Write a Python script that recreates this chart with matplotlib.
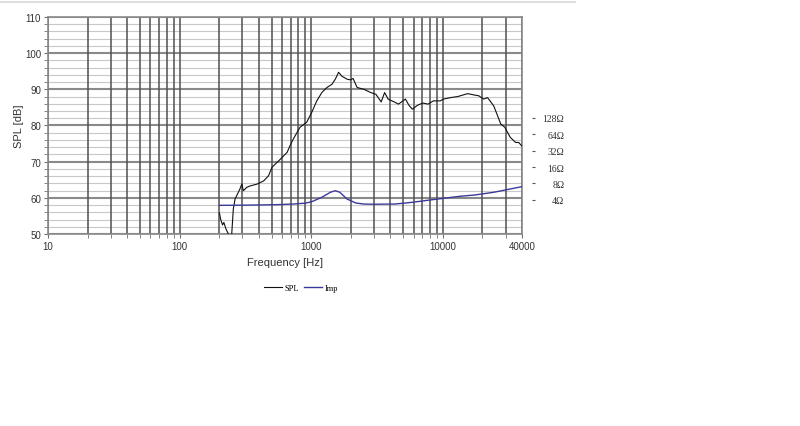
import matplotlib
matplotlib.use('Agg')
import matplotlib.pyplot as plt
from matplotlib.lines import Line2D
from matplotlib.ticker import FixedLocator, NullFormatter, NullLocator

# SPL curve (Hz, dB)
spl_freq = [201, 205, 212, 217, 225, 235, 245, 249, 256, 264, 275, 287, 297, 305, 314, 324,
            344, 388, 436, 474, 503, 550, 584, 657, 690, 730, 822, 925, 1009, 1103, 1205,
            1317, 1440, 1525, 1615, 1713, 1873, 1985, 2080, 2234, 2516, 2837, 3107, 3404,
            3615, 3842, 4337, 4610, 5200, 5530, 5870, 6430, 7050, 7730, 8480, 9570, 10140,
            11470, 13000, 15460, 17480, 18800, 20400, 21900, 24400, 27600, 29600, 32600,
            35800, 37800, 39700]
spl_db = [55.8, 54.1, 52.5, 53.2, 51.4, 50.0, 47.0, 50.0, 56.9, 59.7, 61.0, 62.4, 63.8, 62.0,
          62.4, 62.9, 63.3, 63.8, 64.7, 66.1, 68.4, 69.8, 70.7, 72.6, 74.4, 76.2, 79.5, 80.9,
          83.6, 86.8, 89.1, 90.5, 91.4, 92.8, 94.7, 93.6, 92.8, 92.6, 93.0, 90.5, 90.0, 89.1,
          88.6, 86.5, 89.1, 87.3, 86.4, 85.9, 87.3, 85.6, 84.5, 85.6, 86.2, 85.9, 86.8, 86.8,
          87.3, 87.7, 88.0, 88.8, 88.4, 88.2, 87.3, 87.7, 85.4, 80.4, 79.5, 76.7, 75.3, 75.3,
          74.4]

# impedance curve (Hz, ohm)
imp_freq = [201, 300, 409, 550, 730, 900, 1009, 1205, 1400, 1525, 1650, 1873, 2180, 2500,
            3000, 4337, 5870, 8000, 10140, 13500, 17480, 24400, 32600, 39700]
imp_ohm = [3.15, 3.17, 3.20, 3.24, 3.33, 3.45, 3.67, 4.43, 5.48, 5.86, 5.48, 4.12, 3.48,
           3.33, 3.30, 3.33, 3.58, 3.95, 4.24, 4.62, 4.88, 5.48, 6.30, 6.94]

x_ticks = [10, 100, 1000, 10000, 40000]
x_minor = [m * d for d in [10, 100, 1000] for m in range(2, 10)] + [20000, 30000]
ohm_ticks = [4, 8, 16, 32, 64, 128]

fig = plt.figure(figsize=(8, 4.27), dpi=100)
ax = fig.add_axes([0.06, 0.4496, 0.5925, 0.5084])

# faint line at the very top of the picture
fig.add_artist(Line2D([0, 575 / 800], [1 - 2.5 / 427] * 2, color='#d8d8d8', linewidth=1.2))

ax.set_xscale('log')
ax.set_xlim(10, 40000)
ax.set_ylim(50, 110)

ax.xaxis.set_major_locator(FixedLocator(x_ticks))
ax.set_xticklabels([str(t) for t in x_ticks])
ax.xaxis.set_minor_locator(FixedLocator(x_minor))
ax.xaxis.set_minor_formatter(NullFormatter())
ax.yaxis.set_major_locator(FixedLocator(range(50, 111, 10)))
ax.yaxis.set_minor_locator(FixedLocator(range(50, 111, 2)))

# horizontal grid under, vertical grid lines on top of it
ax.grid(True, axis='y', which='minor', color='#c8c8c8', linewidth=0.8)
ax.grid(True, axis='y', which='major', color='#8a8a8a', linewidth=1.5)
ax.set_axisbelow(True)
ax.vlines(x_ticks + x_minor, 0, 1, transform=ax.get_xaxis_transform(),
          colors='#505050', linewidth=1.1, zorder=1)

for s in ax.spines.values():
    s.set_color('#8a8a8a')
    s.set_linewidth(1.2)

ax.tick_params(axis='both', which='both', direction='out', length=3, color='#707070',
               labelsize=7, labelcolor='#333333', pad=2)
for lbl in ax.get_xticklabels() + ax.get_yticklabels():
    lbl.set_family('Liberation Sans')

ax.set_xlabel('Frequency [Hz]', fontsize=8, family='Liberation Sans', color='#333333', labelpad=4)
ax.set_ylabel('SPL [dB]', fontsize=8, family='Liberation Sans', color='#333333', labelpad=1)

l1, = ax.plot(spl_freq, spl_db, color='#111111', linewidth=0.8, label='SPL', zorder=3)

ax2 = ax.twinx()
ax2.set_yscale('log')
ax2.set_ylim(0.933, 9290)
l2, = ax2.plot(imp_freq, imp_ohm, color='#3a3a9a', linewidth=1.0, label='Imp')
ax2.yaxis.set_major_locator(FixedLocator(ohm_ticks))
ax2.yaxis.set_minor_locator(NullLocator())
ax2.set_yticklabels([f'{t}\u03a9' for t in ohm_ticks])
for s in ax2.spines.values():
    s.set_visible(False)
ax2.spines['right'].set_position(('outward', 7))
ax2.tick_params(axis='y', direction='out', length=2.5, color='#555555', labelsize=7,
                labelcolor='#333333', pad=21)
for lbl in ax2.get_yticklabels():
    lbl.set_horizontalalignment('right')
    lbl.set_family('Liberation Serif')

fig.legend(handles=[l1, l2], labels=['SPL', 'Imp'], loc='center', ncol=2,
           bbox_to_anchor=(301 / 800, 1 - 289 / 427), frameon=False,
           prop={'family': 'Liberation Serif', 'size': 6}, handlelength=2.2,
           handletextpad=0.3, columnspacing=0.6)

fig.savefig('out.png', dpi=100)
